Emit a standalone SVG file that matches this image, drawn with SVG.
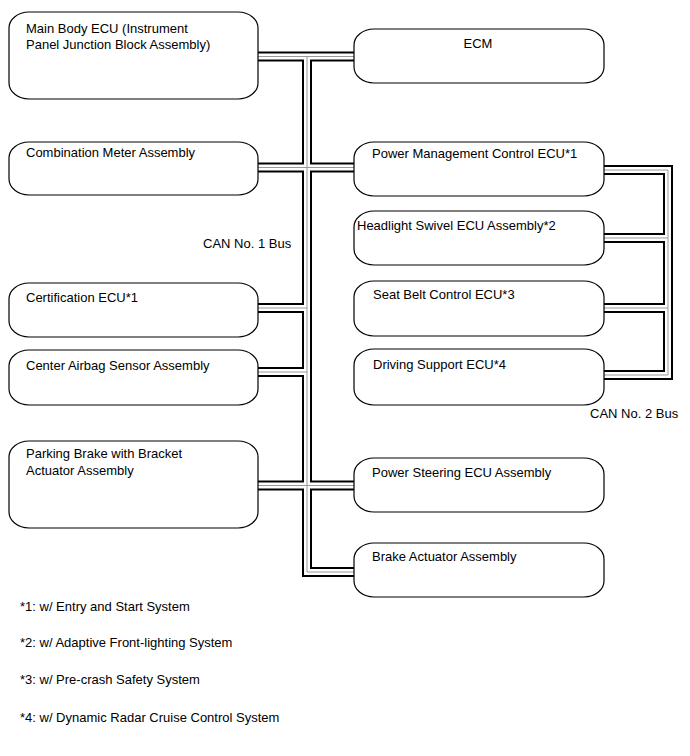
<svg xmlns="http://www.w3.org/2000/svg" width="690" height="756" viewBox="0 0 690 756">
<style>
.box{fill:#fff;stroke:#000;stroke-width:1.2}
text{font-family:"Liberation Sans",Arial,sans-serif;font-size:13px;fill:#000}
.b1{fill:none;stroke:#000;stroke-width:10;stroke-linejoin:miter}
.b2{fill:none;stroke:#fff;stroke-width:6;stroke-linejoin:miter}
.b3{fill:none;stroke:#999;stroke-width:1;stroke-linejoin:miter}
</style>
<defs>
<path id="can1" d="M255,56.5 H356 M307,56.5 V572 H356 M255,167.5 H356 M255,308 H307 M255,372 H307 M255,485.5 H356"/>
<path id="can2" d="M601,170 H668 V375 H601 M668,238 H601 M668,308 H601"/>
</defs>
<rect width="690" height="756" fill="#fff"/>
<g id="connectors">
<use href="#can1" class="b1"/>
<use href="#can2" class="b1"/>
<use href="#can1" class="b2"/>
<use href="#can2" class="b2"/>
<use href="#can1" class="b3"/>
<use href="#can2" class="b3"/>
<text x="203" y="248">CAN No. 1 Bus</text>
<text x="590" y="418">CAN No. 2 Bus</text>
</g>
<g id="main-body-ecu"><rect class="box" x="9" y="12" width="249" height="87" rx="20" ry="16"/><text x="26" y="33">Main Body ECU (Instrument</text><text x="26" y="49">Panel Junction Block Assembly)</text></g>
<g id="combination-meter"><rect class="box" x="9" y="142" width="249" height="53" rx="20" ry="16"/><text x="26" y="157">Combination Meter Assembly</text></g>
<g id="certification-ecu"><rect class="box" x="9" y="283" width="249" height="54" rx="20" ry="16"/><text x="26" y="302">Certification ECU*1</text></g>
<g id="center-airbag"><rect class="box" x="9" y="350" width="249" height="55" rx="20" ry="16"/><text x="26" y="370">Center Airbag Sensor Assembly</text></g>
<g id="parking-brake"><rect class="box" x="9" y="441" width="249" height="87" rx="20" ry="16"/><text x="26" y="458">Parking Brake with Bracket</text><text x="26" y="475">Actuator Assembly</text></g>
<g id="ecm"><rect class="box" x="354" y="29" width="250" height="54" rx="20" ry="16"/><text x="478" y="48" text-anchor="middle">ECM</text></g>
<g id="power-management"><rect class="box" x="354" y="142" width="250" height="54" rx="20" ry="16"/><text x="372" y="158">Power Management Control ECU*1</text></g>
<g id="headlight-swivel"><rect class="box" x="354" y="211" width="250" height="54" rx="20" ry="16"/><text x="357" y="230">Headlight Swivel ECU Assembly*2</text></g>
<g id="seat-belt"><rect class="box" x="354" y="281" width="250" height="55" rx="20" ry="16"/><text x="373" y="299">Seat Belt Control ECU*3</text></g>
<g id="driving-support"><rect class="box" x="354" y="349" width="250" height="56" rx="20" ry="16"/><text x="373" y="369">Driving Support ECU*4</text></g>
<g id="power-steering"><rect class="box" x="354" y="458" width="250" height="54" rx="20" ry="16"/><text x="372" y="477">Power Steering ECU Assembly</text></g>
<g id="brake-actuator"><rect class="box" x="354" y="543" width="250" height="54" rx="20" ry="16"/><text x="372" y="561">Brake Actuator Assembly</text></g>
<g id="notes">
<text x="20" y="611">*1: w/ Entry and Start System</text>
<text x="20" y="647">*2: w/ Adaptive Front-lighting System</text>
<text x="20" y="684">*3: w/ Pre-crash Safety System</text>
<text x="20" y="722">*4: w/ Dynamic Radar Cruise Control System</text>
</g>
</svg>
